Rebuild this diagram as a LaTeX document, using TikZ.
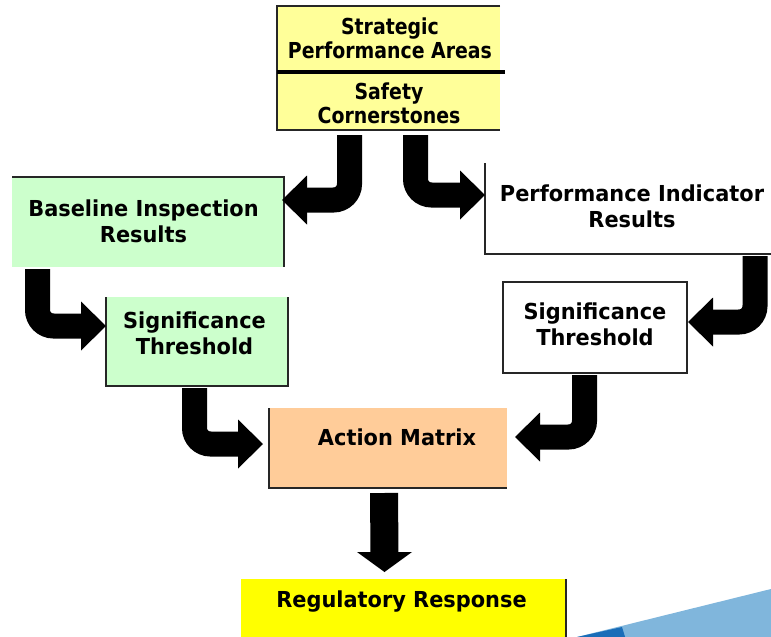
\documentclass[tikz,border=0pt]{standalone}
\usepackage{fontspec}
\newfontfamily\boxfont{DejaVu Sans}[FakeStretch=0.95]
\newfontfamily\topfont{DejaVu Sans}[FakeStretch=0.86]
\usetikzlibrary{calc}
\definecolor{lyel}{HTML}{FFFF99}
\definecolor{lgreen}{HTML}{CCFFCC}
\definecolor{peach}{HTML}{FFCC99}
\definecolor{yel}{HTML}{FFFF00}
\definecolor{lblue}{HTML}{80B6DC}
\definecolor{dblue}{HTML}{1A6DB8}
\newcommand{\curvarrow}[3]{%
  \draw[shaft] (#1) |- ($(#2)+(-24*#3,0)$);
  \fill[black] ($(#2)+(-25*#3,-24.5)$) -- (#2) -- ($(#2)+(-25*#3,24.5)$) -- cycle;}
\begin{document}
\begin{tikzpicture}[x=1pt,y=-1pt,
  box/.style={rectangle, inner sep=0pt, outer sep=0pt, draw=none},
  txt/.style={align=center, inner sep=0pt, text=black, font=\boxfont\bfseries\fontsize{22}{26}\selectfont},
  ttxt/.style={align=center, inner sep=0pt, text=black, font=\topfont\bfseries\fontsize{22}{24}\selectfont},
  edge/.style={line width=2pt, draw=black!85},
  shaft/.style={line width=25pt, rounded corners=16pt, draw=black}]
\useasboundingbox (0,0) rectangle (771,637);
\clip (0,0) rectangle (771,637);
% background wedge
\fill[lblue] (577,637) -- (771,589) -- (771,640) -- (577,640) -- cycle;
\fill[dblue] (577,637) -- (622,627) -- (626,640) -- (577,640) -- cycle;
% boxes
\node[box, fill=lyel, minimum width=223pt, minimum height=66pt] (spa) at (388.5,39) {};
\node[box, fill=lyel, minimum width=223pt, minimum height=58pt] (sc) at (388.5,101) {};
\node[box, fill=lgreen, minimum width=272pt, minimum height=90pt] (base) at (148,222) {};
\node[box, fill=white, minimum width=300pt, minimum height=91pt] (pi) at (635,208.5) {};
\node[box, fill=lgreen, minimum width=182pt, minimum height=89pt] (sigl) at (197,341.5) {};
\node[box, fill=white, minimum width=184pt, minimum height=91pt] (sigr) at (595,327.5) {};
\node[box, fill=peach, minimum width=238pt, minimum height=80pt] (am) at (388,448) {};
\node[box, fill=yel, minimum width=325pt, minimum height=66pt] (rr) at (403.5,612) {};
% borders
\draw[edge] (spa.north east) -- (spa.north west) -- (sc.south west) -- (sc.south east);
\draw[line width=3.5pt] (spa.south west) -- ($(spa.south east)+(5,0)$);
\draw[edge] (base.north west) -- (base.north east) -- (base.south east);
\draw[edge] (pi.north west) -- (pi.south west) -- (pi.south east);
\draw[edge] (sigl.north west) -- (sigl.south west) -- (sigl.south east) -- (sigl.north east);
\draw[edge] (sigr.north west) rectangle (sigr.south east);
\draw[edge] (am.north west) -- (am.south west) -- (am.south east);
\draw[edge] (rr.north east) -- (rr.south east);
% texts
\node[ttxt] (tspa) at (390,38) {Strategic\\Performance Areas};
\node[ttxt] (tsc) at (389,103) {Safety\\Cornerstones};
\node[txt] (tbase) at (143.5,221) {Baseline Inspection\\Results};
\node[txt] (tpi) at (632,206) {Performance Indicator\\Results};
\node[txt] (tsigl) at (194.5,333) {Significance\\Threshold};
\node[txt] (tsigr) at (595,324) {Significance\\Threshold};
\node[txt] (tam) at (397,437) {Action Matrix};
\node[txt] (trr) at (401.5,602) {Regulatory Response};
% arrows
\coordinate (a1s) at ($(sc.south west)+(72.5,5)$);
\coordinate (a1t) at ($(base.north east)+(-2,23)$);
\curvarrow{a1s}{a1t}{-1}
\coordinate (a2s) at ($(sc.south west)+(138.5,5)$);
\coordinate (a2t) at ($(pi.north west)+(0,32)$);
\curvarrow{a2s}{a2t}{1}
\coordinate (a3s) at ($(base.south west)+(25.5,2)$);
\coordinate (a3t) at ($(sigl.north west)+(0,29)$);
\curvarrow{a3s}{a3t}{1}
\coordinate (a4s) at ($(sigl.south west)+(88.5,2)$);
\coordinate (a4t) at ($(am.north west)+(-6,36)$);
\curvarrow{a4s}{a4t}{1}
\coordinate (a5s) at ($(pi.south west)+(270,2)$);
\coordinate (a5t) at ($(sigr.north east)+(1,40)$);
\curvarrow{a5s}{a5t}{-1}
\coordinate (a6s) at ($(sigr.south west)+(81.5,2)$);
\coordinate (a6t) at ($(am.north east)+(8,29)$);
\curvarrow{a6s}{a6t}{-1}
\coordinate (a7s) at ($(am.south)+(-4,5)$);
\coordinate (a7t) at ($(rr.north)+(-19,-7)$);
\draw[line width=28pt] (a7s) -- ($(a7t)+(0,-19)$);
\fill[black] ($(a7t)+(-27.5,-20)$) -- (a7t) -- ($(a7t)+(27.5,-20)$) -- cycle;
\end{tikzpicture}
\end{document}
